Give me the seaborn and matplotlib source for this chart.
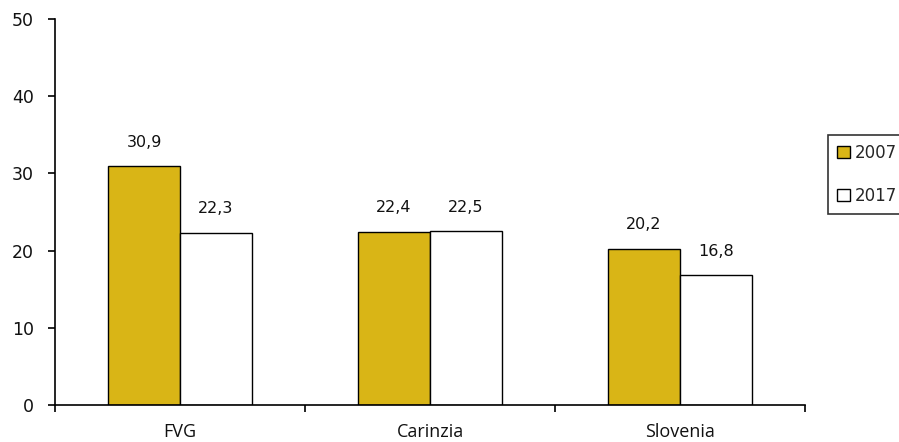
import pandas as pd
import seaborn as sns
import matplotlib.pyplot as plt
from matplotlib.ticker import FixedLocator

regions = ["FVG", "Carinzia", "Slovenia"]
years = ["2007", "2017"]
values_2007 = [30.9, 22.4, 20.2]
values_2017 = [22.3, 22.5, 16.8]

df = pd.DataFrame({
    "region": regions * 2,
    "year": [years[0]] * 3 + [years[1]] * 3,
    "value": values_2007 + values_2017,
})

sns.set_style("white")
plt.rcParams["font.family"] = ["DejaVu Sans"]

fig = plt.figure(figsize=(8.99, 4.42), dpi=100)
ax = fig.add_axes([55 / 899, 1 - 405 / 442, 750 / 899, 386 / 442])

sns.barplot(data=df, x="region", y="value", hue="year",
            palette={"2007": "#D9B516", "2017": "#FFFFFF"}, saturation=1,
            edgecolor="black", linewidth=1.0, width=0.576, ax=ax)

for cont in ax.containers:
    ax.bar_label(cont, labels=[f"{v:.1f}".replace(".", ",") for v in cont.datavalues],
                 padding=12, fontsize=11.5, color="#111111")

ax.set_xlim(-0.5, 2.5)
ax.set_ylim(0, 50)
ax.set_yticks(range(0, 51, 10))
ax.set_xlabel("")
ax.set_ylabel("")

for s in ["top", "right"]:
    ax.spines[s].set_visible(False)
for s in ["left", "bottom"]:
    ax.spines[s].set_color("black")
    ax.spines[s].set_linewidth(1.2)

ax.tick_params(axis="y", direction="out", length=5, width=1.2, color="black",
               left=True, labelsize=12.5, labelcolor="#111111", pad=10)
ax.tick_params(axis="x", which="major", length=0, pad=13)
ax.xaxis.set_minor_locator(FixedLocator([-0.5, 0.5, 1.5, 2.5]))
ax.tick_params(axis="x", which="minor", direction="out", length=5, width=1.2,
               color="black", bottom=True)
for lab in ax.get_xticklabels():
    lab.set_fontfamily("Open Sans")
    lab.set_fontsize(13)
    lab.set_color("#111111")

ax.legend_.remove()
h, l = ax.get_legend_handles_labels()
leg = fig.legend(h, l, loc="upper left", bbox_to_anchor=(828 / 899, 1 - 135 / 442),
                 frameon=True, fancybox=False, edgecolor="black", fontsize=12,
                 handlelength=0.75, handleheight=0.75, handletextpad=0.3,
                 labelspacing=1.5, borderpad=0.55, borderaxespad=0)
leg.get_frame().set_linewidth(1.2)

fig.savefig("out.png", dpi=100)
